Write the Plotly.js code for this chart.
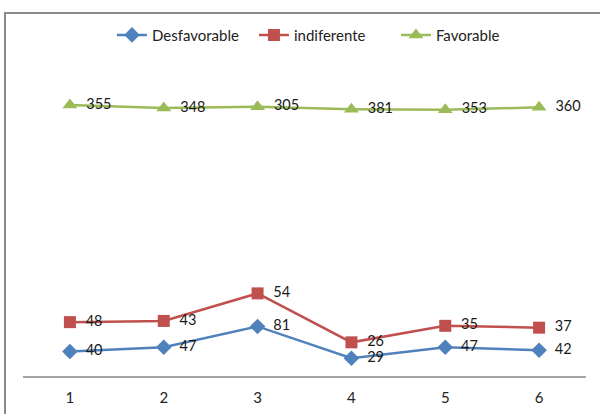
<!DOCTYPE html>
<html>
<head>
<meta charset="utf-8">
<script src="https://cdn.plot.ly/plotly-3.0.1.min.js"></script>
<style>
  html, body { margin: 0; padding: 0; background: #fff; }
  #wrap { position: relative; width: 600px; height: 414px; overflow: hidden; }
  #chart { position: absolute; left: 0; top: 0; width: 600px; height: 414px; }
  #frame { position: absolute; left: 4px; top: 12px; width: 620px; height: 420px;
           border-left: 2px solid #8a8a8a; border-top: 2px solid #8a8a8a; pointer-events: none; }
</style>
</head>
<body>
<div id="wrap">
  <div id="chart"></div>
  <div id="frame"></div>
</div>
<script>
// Survey responses per item (stacked line chart)
const categories = ['1', '2', '3', '4', '5', '6'];
const desfavorable = [40, 47, 81, 29, 47, 42];
const indiferente = [48, 43, 54, 26, 35, 37];
const favorable = [355, 348, 305, 381, 353, 360];

const fontFamily = 'Lato, "Open Sans", sans-serif';
const labelFont = { family: fontFamily, size: 14.5, color: '#1a1a1a' };

function series(name, values, color, symbol, size) {
  return {
    type: 'scatter',
    name: name,
    x: categories,
    y: values,
    stackgroup: 'one',
    fill: 'none',
    mode: 'lines+markers+text',
    // small lead-in so each value sits clear of its marker
    text: values.map(v => '\u2002' + v),
    textposition: 'middle right',
    textfont: labelFont,
    line: { color: color, width: 2.5 },
    marker: { color: color, symbol: symbol, size: size },
    hoverinfo: 'skip'
  };
}

const data = [
  series('Desfavorable', desfavorable, '#4F81BD', 'diamond', 12),
  series('indiferente', indiferente, '#C0504D', 'square', 12),
  series('Favorable', favorable, '#9BBB59', 'triangle-up', 13)
];

const layout = {
  width: 600,
  height: 414,
  margin: { l: 23, r: 14, t: 70, b: 38 },
  paper_bgcolor: '#ffffff',
  plot_bgcolor: '#ffffff',
  font: { family: fontFamily, size: 14, color: '#333' },
  showlegend: true,
  legend: {
    orientation: 'h',
    x: 0.158, xanchor: 'left',
    y: 0.955, yref: 'container', yanchor: 'top',
    font: { family: fontFamily, size: 15, color: '#222' },
    traceorder: 'normal',
    itemwidth: 30,
    entrywidth: 97,
    entrywidthmode: 'pixels'
  },
  xaxis: {
    type: 'category',
    range: [-0.5, 5.5],
    showgrid: false,
    zeroline: false,
    showline: true,
    linecolor: '#a6a6a6',
    linewidth: 1.5,
    ticks: '',
    ticklabelstandoff: 7,
    tickfont: { family: fontFamily, size: 15, color: '#222' },
    fixedrange: true
  },
  yaxis: {
    range: [0, 500],
    visible: false,
    showgrid: false,
    zeroline: false,
    fixedrange: true
  }
};

Plotly.newPlot('chart', data, layout, { displayModeBar: false, staticPlot: true });
</script>
</body>
</html>
